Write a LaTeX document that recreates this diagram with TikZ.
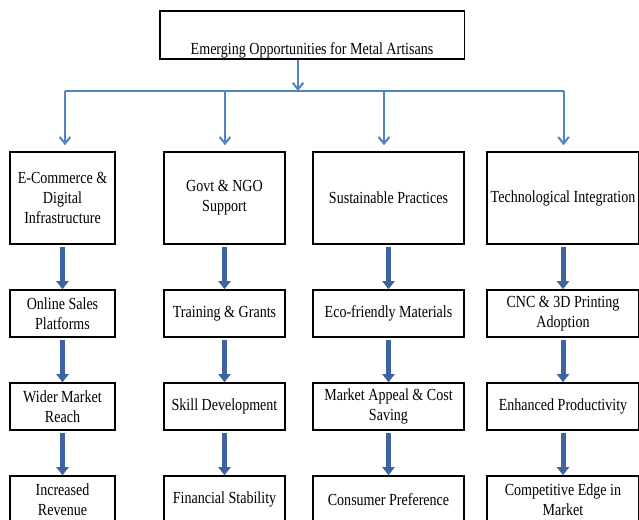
\documentclass[tikz,border=0pt]{standalone}
\usepackage{fontspec}
\setmainfont{Liberation Serif}[FakeStretch=0.83]
\usetikzlibrary{arrows.meta}
\definecolor{linkblue}{RGB}{83,131,192}
\definecolor{flowblue}{RGB}{61,100,160}
\tikzset{
  box/.style={draw, line width=1.2pt, align=center, inner sep=1pt,
    font=\fontsize{12.7pt}{15pt}\selectfont},
  colA/.style={box, minimum width=78.75pt},
  colB/.style={box, minimum width=90.75pt},
  colC/.style={box, minimum width=113.25pt},
  colD/.style={box, minimum width=114pt},
  tall/.style={minimum height=69pt},
  flat/.style={minimum height=35.25pt},
  link/.style={linkblue, line width=1.5pt, -{Straight Barb[length=5pt,width=8pt]}},
  flow/.style={flowblue, line width=3.75pt, -{Triangle[length=6pt,width=9pt]}, shorten <=2pt}
}
\begin{document}
\begin{tikzpicture}[x=0.75pt,y=-0.75pt]
  \useasboundingbox (0,0) rectangle (639,520);
  \node[box, minimum width=228.4pt, minimum height=36pt] (top) at (312.25,35) {};
  \node[anchor=base, font=\fontsize{12.7pt}{15pt}\selectfont] (title) at (312,55)
    {Emerging Opportunities for Metal Artisans};

  \node[colA,tall] (ecom) at (62.5,198) {E-Commerce \&\\Digital\\Infrastructure};
  \node[colA,flat] (online) at (62.5,313.5) {Online Sales\\Platforms};
  \node[colA,flat] (reach) at (62.5,406.5) {Wider Market\\Reach};
  \node[colA,flat] (revenue) at (62.5,499.5) {Increased\\Revenue};

  \node[colB,tall] (govt) at (224.5,198) {Govt \& NGO\\Support};
  \node[colB,flat] (training) at (224.5,313.5) {Training \& Grants};
  \node[colB,flat] (skill) at (224.5,406.5) {Skill Development};
  \node[colB,flat] (finance) at (224.5,499.5) {Financial Stability};

  \node[colC,tall] (sustain) at (388.5,198) {Sustainable Practices};
  \node[colC,flat] (eco) at (388.5,313.5) {Eco-friendly Materials};
  \node[colC,flat] (appeal) at (388.5,406.5) {Market Appeal \& Cost\\Saving};
  \node[colC,flat] (consumer) at (388.5,499.5) {Consumer Preference};

  \node[colD,tall] (tech) at (563,198) {Technological Integration};
  \node[colD,flat] (cnc) at (563,313.5) {CNC \& 3D Printing\\Adoption};
  \node[colD,flat] (productivity) at (563,406.5) {Enhanced Productivity};
  \node[colD,flat] (edge) at (563,499.5) {Competitive Edge in\\Market};

  \coordinate (split) at (298,91);
  \coordinate (t1) at (65,91);
  \coordinate (t2) at (225,91);
  \coordinate (t3) at (384,91);
  \coordinate (t4) at (563.5,91);
  \draw[link] (top.south -| split) -- (split);
  \draw[linkblue, line width=1.5pt] (t1) -- (t4);
  \foreach \t/\b in {t1/ecom, t2/govt, t3/sustain, t4/tech}
    \draw[link, shorten >=4.5pt] (\t) -- (\t |- \b.north);

  \foreach \a/\b in {ecom/online, online/reach, reach/revenue,
      govt/training, training/skill, skill/finance,
      sustain/eco, eco/appeal, appeal/consumer,
      tech/cnc, cnc/productivity, productivity/edge}
    \draw[flow] (\a) -- (\b);
\end{tikzpicture}
\end{document}
